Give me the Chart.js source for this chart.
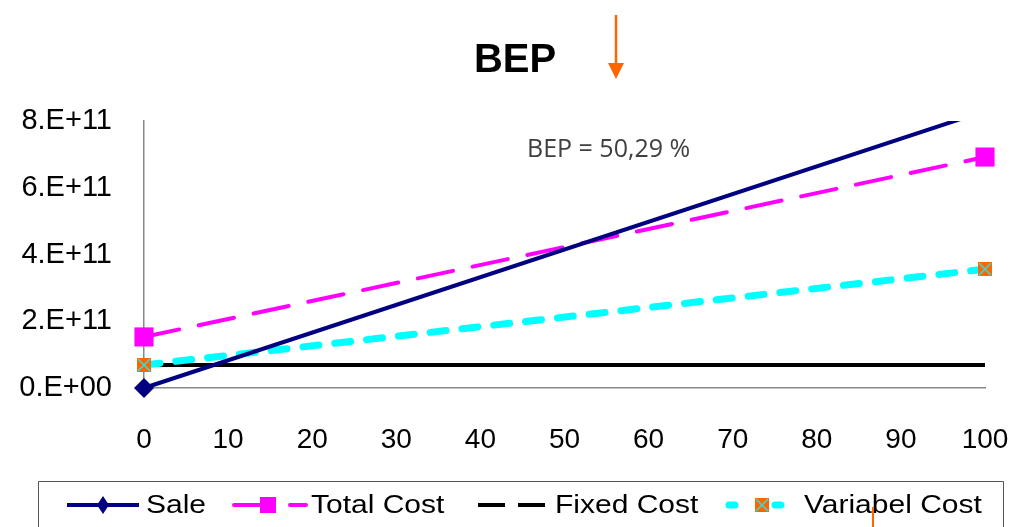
<!DOCTYPE html>
<html>
<head>
<meta charset="utf-8">
<script src="https://cdn.jsdelivr.net/npm/chart.js@4/dist/chart.umd.min.js"></script>
<style>
html,body{margin:0;padding:0;background:#fff;}
#wrap{width:1023px;height:527px;position:relative;}
</style>
</head>
<body>
<div id="wrap"><canvas id="c" width="1023" height="527"></canvas></div>
<script>
// ---- data ----
const xValues = [0, 100];
const saleValues = [0, 8.3e11];
const totalCostValues = [1.53e11, 6.92e11];
const fixedCostValues = [0.69e11, 0.69e11];
const variableCostValues = [0.69e11, 3.56e11];
const seriesNames = ['Sale', 'Total Cost', 'Fixed Cost', 'Variabel Cost'];
const xTicks = [0, 10, 20, 30, 40, 50, 60, 70, 80, 90, 100];
const yTicks = [0, 2e11, 4e11, 6e11, 8e11];
const titleText = 'BEP';
const annotationText = 'BEP = 50,29 %';

const toPts = (vals) => xValues.map((x, i) => ({x: x, y: vals[i]}));

// custom marker: orange square with cyan X
function xSquare(size){
  const c = document.createElement('canvas');
  c.width = size; c.height = size;
  const g = c.getContext('2d');
  g.fillStyle = '#FF6600';
  g.fillRect(0,0,size,size);
  g.strokeStyle = '#33DDDD';
  g.lineWidth = 1.6;
  g.beginPath();
  g.moveTo(1,1); g.lineTo(size-1,size-1);
  g.moveTo(size-1,1); g.lineTo(1,size-1);
  g.stroke();
  return c;
}
const varMarker = xSquare(14);

function fmtY(v){
  if (v === 0) return '0.E+00';
  const e = Math.floor(Math.log10(v));
  const m = Math.round(v / Math.pow(10, e));
  return m + '.E+' + e;
}

const datasets = [
  {label: seriesNames[1], data: toPts(totalCostValues), borderColor: '#FF00FF', backgroundColor: '#FF00FF',
   borderWidth: 4, borderDash: [36, 20], borderCapStyle: 'round', pointStyle: 'rect', pointRadius: 13.5, pointHoverRadius: 13.5,
   pointBorderWidth: 0, clip: false, order: 2},
  {label: seriesNames[2], data: toPts(fixedCostValues), borderColor: '#000000', backgroundColor: '#000000',
   borderWidth: 4, pointRadius: 0, clip: false, order: 3},
  {label: seriesNames[3], data: toPts(variableCostValues), borderColor: '#00FFFF', backgroundColor: '#00FFFF',
   borderWidth: 7, borderDash: [16, 16], borderCapStyle: 'round', pointStyle: varMarker, pointRadius: 7, clip: false, order: 1},
  {label: seriesNames[0], data: toPts(saleValues), borderColor: '#000080', backgroundColor: '#000080',
   borderWidth: 4, pointStyle: 'rectRot', pointRadius: 10, pointHoverRadius: 10, pointBorderWidth: 0,
   clip: {left: 20, top: 0, right: 20, bottom: 20}, order: 0},
];

const extras = {
  id: 'extras',
  afterDraw(chart){
    const ctx = chart.ctx;
    ctx.save();
    // title
    ctx.fillStyle = '#000';
    ctx.font = 'bold 40px "Liberation Sans", Arial, sans-serif';
    ctx.textAlign = 'center';
    ctx.textBaseline = 'middle';
    ctx.fillText(titleText, 515, 61);
    // orange arrow
    ctx.strokeStyle = '#FF6600';
    ctx.fillStyle = '#FF6600';
    ctx.lineWidth = 2.5;
    ctx.beginPath(); ctx.moveTo(616, 15); ctx.lineTo(616, 66); ctx.stroke();
    ctx.beginPath(); ctx.moveTo(608, 63); ctx.lineTo(624, 63); ctx.lineTo(616, 79); ctx.closePath(); ctx.fill();
    // annotation
    ctx.fillStyle = '#404040';
    ctx.font = '25px "Open Sans", "DejaVu Sans", sans-serif';
    ctx.textAlign = 'left';
    ctx.fillText(annotationText, 527, 150);

    // legend box
    ctx.strokeStyle = '#555';
    ctx.lineWidth = 1;
    ctx.beginPath();
    ctx.moveTo(38.5, 540); ctx.lineTo(38.5, 481.5); ctx.lineTo(1003.5, 481.5); ctx.lineTo(1003.5, 540);
    ctx.stroke();

    const ly = 505;
    const items = [
      {ds: datasets[3], x0: 67, x1: 139, mx: 103, tx: 146, dash: []},
      {ds: datasets[0], x0: 234, x1: 306, mx: 268, tx: 311, dash: [26, 30]},
      {ds: datasets[1], x0: 478, x1: 547, mx: null, tx: 555, dash: [27, 13]},
      {ds: datasets[2], x0: 729, x1: 791, mx: 762, tx: 804, dash: [6, 40]},
    ];
    items.forEach(it => {
      const ds = it.ds;
      ctx.save();
      ctx.strokeStyle = ds.borderColor;
      ctx.lineWidth = ds.borderWidth;
      ctx.lineCap = ds.borderCapStyle || 'butt';
      ctx.setLineDash(it.dash);
      ctx.beginPath(); ctx.moveTo(it.x0, ly); ctx.lineTo(it.x1, ly); ctx.stroke();
      ctx.restore();
      if (it.mx !== null) {
        ctx.fillStyle = ds.backgroundColor;
        if (ds.pointStyle === varMarker) {
          ctx.drawImage(varMarker, it.mx - 7, ly - 7);
        } else if (ds.pointStyle === 'rect') {
          ctx.fillRect(it.mx - 8, ly - 8, 16, 16);
        } else {
          ctx.beginPath();
          ctx.moveTo(it.mx, ly - 9); ctx.lineTo(it.mx + 6, ly); ctx.lineTo(it.mx, ly + 9); ctx.lineTo(it.mx - 6, ly); ctx.closePath(); ctx.fill();
        }
      }
      ctx.save();
      ctx.fillStyle = '#000';
      ctx.font = '25px "Liberation Sans", Arial, sans-serif';
      ctx.textAlign = 'left';
      ctx.textBaseline = 'middle';
      ctx.translate(it.tx, ly + 1);
      ctx.scale(1.2, 1);
      ctx.fillText(ds.label, 0, 0);
      ctx.restore();
    });

    // small orange line at bottom
    ctx.strokeStyle = '#FF6600';
    ctx.lineWidth = 2;
    ctx.beginPath(); ctx.moveTo(873, 507); ctx.lineTo(873, 527); ctx.stroke();
    ctx.restore();
  }
};

new Chart(document.getElementById('c'), {
  type: 'line',
  data: {datasets: datasets},
  options: {
    responsive: false,
    animation: false,
    events: [],
    layout: {padding: {top: 121, right: 38, left: 0, bottom: 0}},
    plugins: {legend: {display: false}, tooltip: {enabled: false}, title: {display: false}},
    scales: {
      x: {
        type: 'linear', min: 0, max: 100,
        grid: {display: false},
        border: {display: true, color: '#888', width: 1.5},
        afterBuildTicks: (s) => { s.ticks = xTicks.map(v => ({value: v})); },
        ticks: {color: '#000', font: {family: '"Liberation Sans", Arial, sans-serif', size: 28}, padding: 27, maxRotation: 0, autoSkip: false},
        afterFit: (s) => { s.height = 139; s.paddingLeft = 0; s.paddingRight = 0; }
      },
      y: {
        min: 0, max: 8e11,
        grid: {display: false},
        border: {display: true, color: '#888', width: 1.5},
        afterBuildTicks: (s) => { s.ticks = yTicks.map(v => ({value: v})); },
        ticks: {color: '#000', font: {family: '"Liberation Sans", Arial, sans-serif', size: 29}, padding: 24, callback: fmtY},
        afterFit: (s) => { s.width = 144; s.paddingTop = 0; s.paddingBottom = 0; }
      }
    }
  },
  plugins: [extras]
});
</script>
</body>
</html>
